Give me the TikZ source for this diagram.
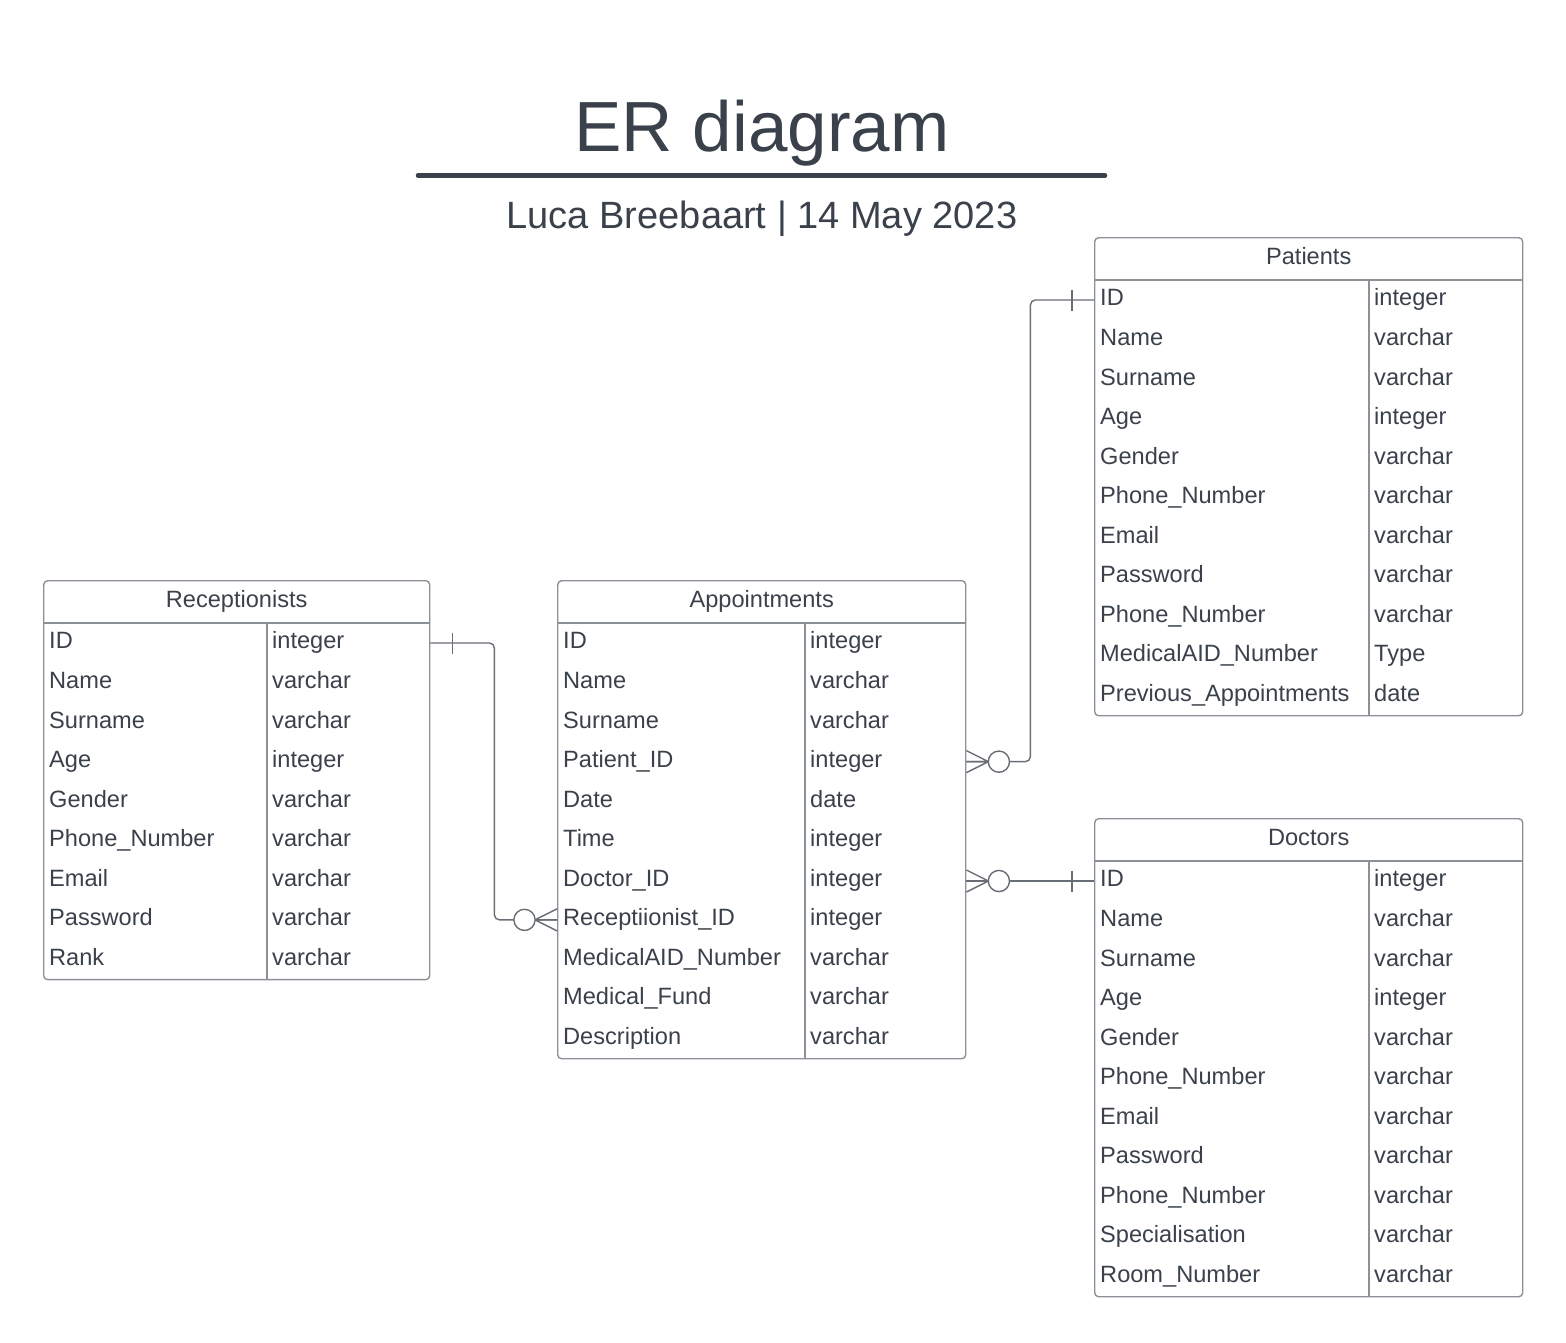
\documentclass[tikz,border=0pt]{standalone}
\usepackage{fontspec}
\setmainfont{Liberation Sans}
\usepackage{tikz}
\usetikzlibrary{calc,positioning}

\definecolor{ink}{RGB}{58,65,75}
\definecolor{boxgray}{RGB}{140,145,152}
\definecolor{linkgray}{RGB}{105,110,118}

\newcommand{\rowfont}{\fontsize{23.6}{28}\selectfont}
\newcommand{\titlefont}{\fontsize{71}{80}\selectfont}
\newcommand{\subfont}{\fontsize{38}{44}\selectfont}

% #1 name, #2 left, #3 top, #4 width, #5 divider offset, #6 number of rows, #7 title, #8 rows
\newcommand{\ertable}[8]{%
  \pgfmathsetmacro{\tblh}{43+#6*39.55}
  \node[tbl, minimum width=#4pt, minimum height=\tblh pt, anchor=north west] (#1) at (#2,#3) {};
  \node[head, anchor=base] (#1-head) at ($(#1.north)+(0,27)$) {#7};
  \draw[tblline] (#2,#3+43) -- (#2+#4,#3+43);
  \draw[tblline] (#2+#5,#3+43) -- (#2+#5,#3+\tblh);
  \foreach \fname/\ftype [count=\i] in {#8} {
    \pgfmathsetmacro{\rowy}{#3+43+(\i-1)*39.55+20}
    \node[field] (#1-\i) at (#2+6,\rowy) {\fname};
    \node[field] (#1-t\i) at (#2+#5+5,\rowy) {\ftype};
  }
}

\begin{document}
\begin{tikzpicture}[x=1pt,y=-1pt,
  tbl/.style={draw=boxgray, line width=1.4pt, rounded corners=4pt, inner sep=0},
  tblline/.style={draw=boxgray, line width=1.4pt},
  head/.style={text=ink, font=\rowfont, inner sep=0},
  field/.style={anchor=west, text=ink, font=\rowfont, inner sep=0, text height=16.8pt, text depth=5pt},
  link/.style={draw=linkgray, line width=1.4pt, rounded corners=5pt}]
\useasboundingbox (0,0) rectangle (1566,1342);

% title
\node[text=ink, font=\titlefont, anchor=base, inner sep=0] (title) at (762,151) {ER diagram};
\draw[ink, line width=4.5pt, line cap=round] (418,175.5) -- (1105,175.5);
\node[text=ink, font=\subfont, anchor=base, inner sep=0] (subtitle) at (762,228) {Luca Breebaart | 14 May 2023};

% tables
\ertable{rec}{43}{580}{386}{224}{9}{Receptionists}{ID/integer, Name/varchar, Surname/varchar, Age/integer, Gender/varchar, Phone\_Number/varchar, Email/varchar, Password/varchar, Rank/varchar}
\ertable{app}{557}{580}{408}{248}{11}{Appointments}{ID/integer, Name/varchar, Surname/varchar, Patient\_ID/integer, Date/date, Time/integer, Doctor\_ID/integer, Receptiionist\_ID/integer, MedicalAID\_Number/varchar, Medical\_Fund/varchar, Description/varchar}
\ertable{pat}{1094}{237}{428}{275}{11}{Patients}{ID/integer, Name/varchar, Surname/varchar, Age/integer, Gender/varchar, Phone\_Number/varchar, Email/varchar, Password/varchar, Phone\_Number/varchar, MedicalAID\_Number/Type, Previous\_Appointments/date}
\ertable{doc}{1094}{818}{428}{275}{11}{Doctors}{ID/integer, Name/varchar, Surname/varchar, Age/integer, Gender/varchar, Phone\_Number/varchar, Email/varchar, Password/varchar, Phone\_Number/varchar, Specialisation/varchar, Room\_Number/varchar}

% receptionists -> appointments
\draw[link] (rec.east |- rec-1) -- ++(64,0) |- (app.west |- app-8);
\draw[link] ($(rec.east |- rec-1)+(22,-10.5)$) -- ++(0,21);
\draw[link] ($(app.west |- app-8)+(-22,0)$) -- ++(22,-11) ++(-22,11) -- ++(22,0) ++(-22,0) -- ++(22,11);
\draw[link, fill=white] ($(app.west |- app-8)+(-32.5,0)$) circle (10.6pt);

% appointments -> patients
\draw[link] (app.east |- app-4) -- ++(64,0) |- (pat.west |- pat-1);
\draw[link] ($(pat.west |- pat-1)+(-22,-10.5)$) -- ++(0,21);
\draw[link] ($(app.east |- app-4)+(22,0)$) -- ++(-22,-11) ++(22,11) -- ++(-22,0) ++(22,0) -- ++(-22,11);
\draw[link, fill=white] ($(app.east |- app-4)+(32.5,0)$) circle (10.6pt);

% appointments -> doctors
\draw[link] (app.east |- doc-1) -- (doc.west |- doc-1);
\draw[link] ($(doc.west |- doc-1)+(-22,-10.5)$) -- ++(0,21);
\draw[link] ($(app.east |- doc-1)+(22,0)$) -- ++(-22,-11) ++(22,11) -- ++(-22,0) ++(22,0) -- ++(-22,11);
\draw[link, fill=white] ($(app.east |- doc-1)+(32.5,0)$) circle (10.6pt);
\end{tikzpicture}
\end{document}
